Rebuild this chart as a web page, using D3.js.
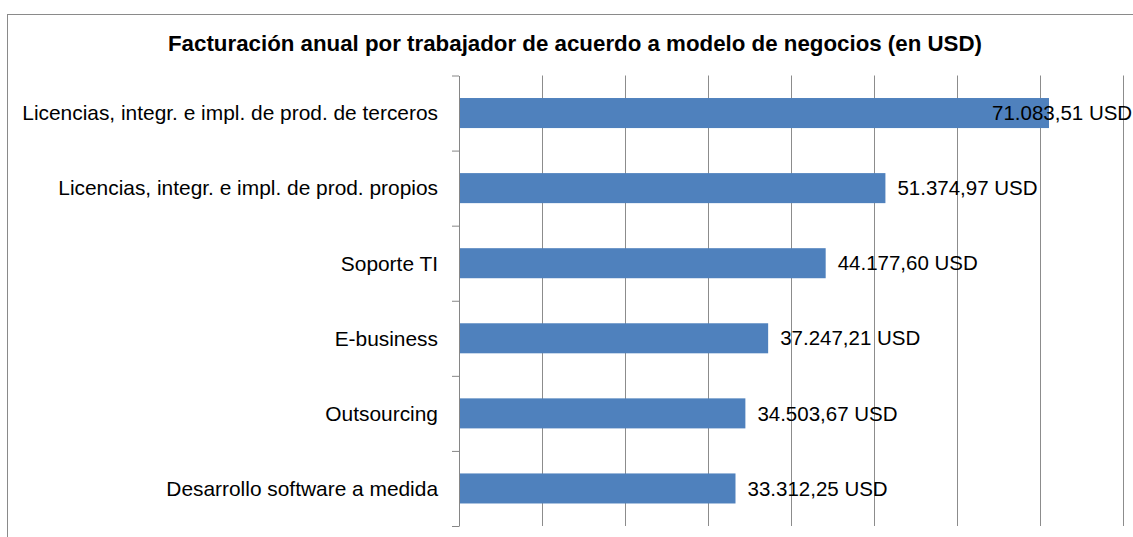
<!DOCTYPE html>
<html>
<head>
<meta charset="utf-8">
<script src="https://cdn.jsdelivr.net/npm/d3@7"></script>
<style>
  body { margin: 0; background: #fff; }
  text { font-family: "Liberation Sans Narrow", "Arial Narrow", "Liberation Sans", sans-serif; }
</style>
</head>
<body>
<script>
// categories, top to bottom
const categories = [
  'Licencias, integr. e impl. de prod. de terceros',
  'Licencias, integr. e impl. de prod. propios',
  'Soporte TI',
  'E-business',
  'Outsourcing',
  'Desarrollo software a medida'
];
const values = [71083.51, 51374.97, 44177.60, 37247.21, 34503.67, 33312.25];
const valueLabels = ['71.083,51 USD', '51.374,97 USD', '44.177,60 USD', '37.247,21 USD', '34.503,67 USD', '33.312,25 USD'];
const gridTicks = [10000, 20000, 30000, 40000, 50000, 60000, 70000, 80000];

const width = 1133, height = 537;
const plotLeft = 459, plotRight = 1123, plotTop = 75.5, plotBottom = 526;

const svg = d3.select('body').append('svg')
  .attr('width', width)
  .attr('height', height);

// chart frame (cut off at right and bottom like the original)
svg.append('rect')
  .attr('x', 7.5).attr('y', 14.5)
  .attr('width', 1140).attr('height', 540)
  .attr('fill', 'none')
  .attr('stroke', '#8a8a8a');

svg.append('text')
  .attr('x', 575).attr('y', 51)
  .attr('text-anchor', 'middle')
  .attr('font-size', 22.3)
  .attr('font-weight', 'bold')
  .attr('fill', '#000')
  .text('Facturación anual por trabajador de acuerdo a modelo de negocios (en USD)');

const x = d3.scaleLinear().domain([0, 80000]).range([plotLeft, plotRight]);
const y = d3.scaleBand().domain(categories).range([plotTop, plotBottom]).paddingInner(0.6).paddingOuter(0.3);

// vertical gridlines
svg.append('g')
  .attr('transform', `translate(0,${plotBottom})`)
  .call(d3.axisBottom(x).tickValues(gridTicks).tickSize(-(plotBottom - plotTop)).tickFormat(''))
  .call(g => g.select('.domain').remove())
  .call(g => g.selectAll('line').attr('stroke', '#8c8c8c'));

// bars
svg.append('g').selectAll('rect')
  .data(values)
  .join('rect')
  .attr('x', x(0))
  .attr('y', (d, i) => y(categories[i]))
  .attr('width', d => x(d) - x(0))
  .attr('height', y.bandwidth())
  .attr('fill', '#4f81bd');

// category axis, ticks on band boundaries
const yEdge = d3.scaleLinear().domain([0, categories.length]).range([plotTop, plotBottom]);
svg.append('g')
  .attr('transform', `translate(${plotLeft},0)`)
  .call(d3.axisLeft(yEdge).ticks(categories.length).tickSize(7).tickSizeOuter(0).tickFormat(''))
  .call(g => g.selectAll('line, path').attr('stroke', '#868686'));

svg.append('g').selectAll('text')
  .data(categories)
  .join('text')
  .attr('x', plotLeft - 21)
  .attr('y', d => y(d) + y.bandwidth() / 2)
  .attr('dy', '0.35em')
  .attr('text-anchor', 'end')
  .attr('font-size', 20.9)
  .attr('fill', '#000')
  .text(d => d);

// value labels, pushed back inside the plot when they would overflow
svg.append('g').selectAll('text')
  .data(values)
  .join('text')
  .attr('x', d => Math.min(x(d) + 12, 992))
  .attr('y', (d, i) => y(categories[i]) + y.bandwidth() / 2)
  .attr('dy', '0.35em')
  .attr('font-size', 20.5)
  .attr('fill', '#000')
  .text((d, i) => valueLabels[i]);
</script>
</body>
</html>
